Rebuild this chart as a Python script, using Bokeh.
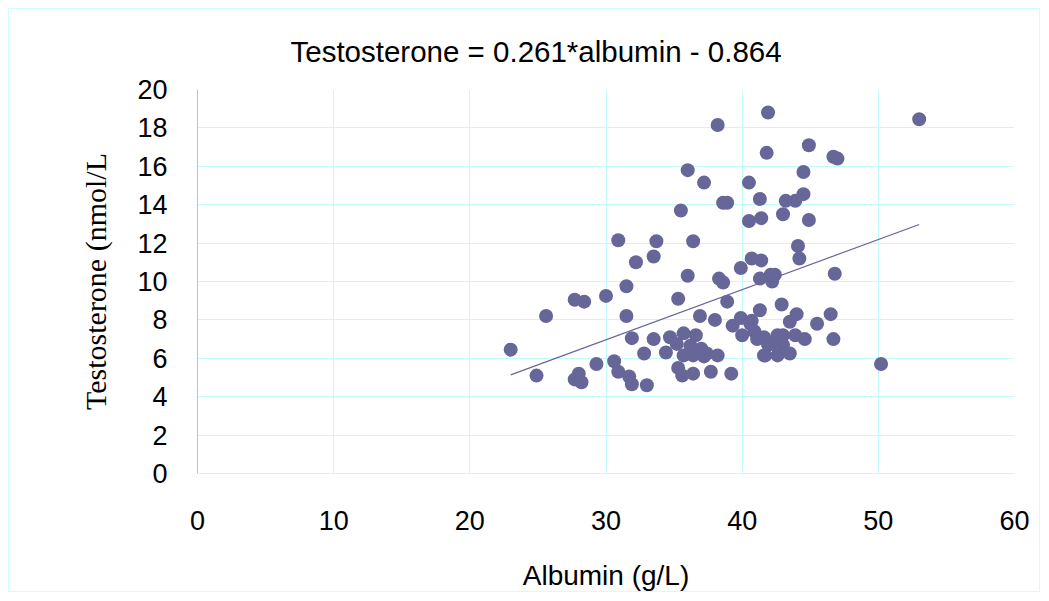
from bokeh.plotting import figure
from bokeh.models import ColumnDataSource, Range1d, FixedTicker, Title
from bokeh.embed import file_html
from bokeh.resources import INLINE

albumin = [
    23.0, 24.9, 25.6, 27.7, 28.4, 27.7, 28.0, 28.2, 30.0, 30.6,
    30.9, 30.9, 31.5, 31.5, 31.7, 31.9, 31.9, 32.2, 29.3, 32.8,
    33.0, 33.5, 33.7, 33.5, 34.4, 34.7, 35.3, 35.5, 35.3, 35.6,
    35.2, 35.7, 35.7, 36.0, 36.0, 36.4, 36.4, 36.4, 36.6, 36.9,
    36.2, 37.2, 37.0, 37.4, 37.7, 38.0, 38.2, 38.3, 38.2, 38.6,
    38.6, 38.9, 38.9, 39.2, 39.3, 39.9, 39.9, 40.0, 40.5, 40.5,
    40.6, 40.7, 40.7, 40.9, 41.1, 41.3, 41.3, 41.3, 41.4, 41.4,
    41.6, 41.7, 41.9, 41.8, 41.9, 42.1, 42.2, 42.4, 42.6, 42.6,
    42.9, 43.0, 43.0, 43.2, 43.5, 43.5, 43.9, 43.9, 44.1, 44.2,
    44.0, 44.5, 44.5, 44.6, 44.9, 44.9, 45.5, 46.5, 46.7, 46.7,
    47.0, 46.8, 50.2, 53.0, 42.2, 43.0, 41.6, 37.2
]
testosterone = [
    6.45, 5.1, 8.2, 9.05, 8.95, 4.9, 5.2, 4.75, 9.25, 5.85,
    12.15, 5.3, 9.75, 8.2, 5.05, 4.65, 7.05, 11.0, 5.7, 6.25,
    4.6, 11.3, 12.1, 7.0, 6.3, 7.1, 9.1, 13.7, 5.5, 5.1,
    6.75, 7.3, 6.15, 15.8, 10.3, 12.1, 6.15, 5.2, 7.2, 8.2,
    6.65, 15.15, 6.5, 6.25, 5.3, 8.0, 18.15, 10.15, 6.15, 9.95,
    14.1, 14.1, 8.95, 5.2, 7.7, 10.7, 8.1, 7.2, 15.15, 13.15,
    7.8, 11.2, 7.95, 7.4, 7.0, 10.15, 14.3, 8.5, 13.3, 11.1,
    7.1, 6.15, 18.8, 16.7, 6.7, 10.35, 10.0, 10.35, 7.2, 6.15,
    8.8, 13.5, 6.7, 14.2, 7.9, 6.25, 14.2, 7.2, 11.85, 11.2,
    8.3, 15.7, 14.55, 7.0, 17.1, 13.2, 7.8, 8.3, 7.0, 16.5,
    16.4, 10.4, 5.7, 18.45, 6.75, 7.2, 6.15, 6.1
]

slope = 0.261
intercept = -0.864
trend_x = [23.0, 53.0]
trend_y = [slope * v + intercept for v in trend_x]

x_ticks = [0, 10, 20, 30, 40, 50, 60]
y_ticks = [0, 2, 4, 6, 8, 10, 12, 14, 16, 18, 20]

W, H = 1032, 584
p = figure(width=W, height=H, output_backend="svg", toolbar_location=None,
           x_range=Range1d(0, 60), y_range=Range1d(0, 20),
           min_border_left=188, min_border_right=27,
           min_border_top=80, min_border_bottom=114,
           styles={"border": "1px solid #ccffff", "margin-left": "8px",
                   "margin-top": "8px"})
p.background_fill_color = "white"
p.border_fill_color = "white"
p.outline_line_color = None

p.xgrid.ticker = FixedTicker(ticks=x_ticks)
p.ygrid.ticker = FixedTicker(ticks=y_ticks)
p.xgrid.grid_line_color = "#c4fafa"
p.ygrid.grid_line_color = "#c4fafa"

p.xaxis.ticker = FixedTicker(ticks=x_ticks)
p.yaxis.ticker = FixedTicker(ticks=y_ticks)
for ax in (p.xaxis[0], p.yaxis[0]):
    ax.major_tick_line_color = None
    ax.minor_tick_line_color = None
    ax.major_label_text_font = "Liberation Sans"
    ax.major_label_text_font_size = "27px"
    ax.major_label_text_color = "black"
    ax.axis_label_text_font_style = "normal"
    ax.axis_label_text_color = "black"
p.xaxis.axis_line_color = "#c4fafa"
p.yaxis.axis_line_color = "#99ccff"
p.xaxis.major_label_standoff = 31
p.yaxis.major_label_standoff = 24

p.xaxis.axis_label = "Albumin (g/L)"
p.xaxis.axis_label_text_font = "Liberation Sans"
p.xaxis.axis_label_text_font_size = "28px"
p.xaxis.axis_label_standoff = 27

p.yaxis.axis_label = "Testosterone (nmol/L"
p.yaxis.axis_label_text_font = "Liberation Serif"
p.yaxis.axis_label_text_font_size = "30px"
p.yaxis.axis_label_standoff = 22

src = ColumnDataSource(dict(x=albumin, y=testosterone))
p.scatter("x", "y", source=src, size=14, fill_color="#666699",
          line_color="#666699", line_width=0)
p.line(trend_x, trend_y, line_color="#666699", line_width=1.2)

title = Title(text="Testosterone = 0.261*albumin - 0.864", align="left",
              offset=93, standoff=44, text_font="Liberation Sans",
              text_font_size="29.5px", text_font_style="normal",
              text_color="black")
p.add_layout(title, "above")

open("out.html", "w").write(file_html(p, INLINE))
